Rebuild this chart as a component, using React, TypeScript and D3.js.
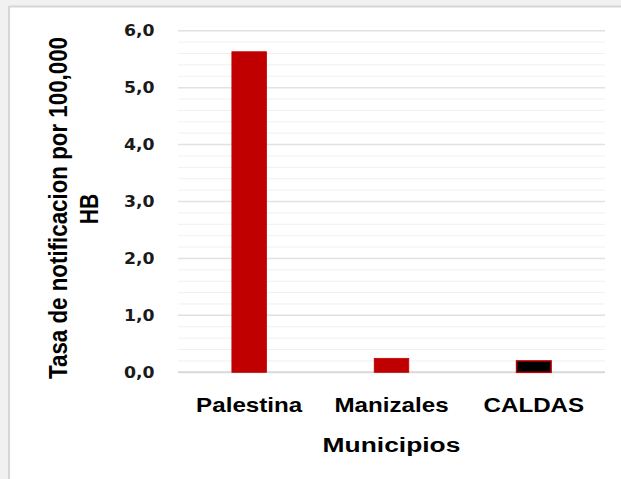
import React from "react";
import * as d3 from "d3";

const categories = ["Palestina", "Manizales", "CALDAS"];
const values = [5.63, 0.245, 0.2];
const barFills = ["#C00000", "#C00000", "#000000"];
const majorTicks = [0, 1, 2, 3, 4, 5, 6];
const minorTicks = d3.range(0, 6.01, 0.2);
const yTitleLines = ["Tasa de notificacion por 100,000", "HB"];
const xTitle = "Municipios";

const W = 621;
const H = 479;

export default function App() {
  const y = d3.scaleLinear().domain([0, 6]).range([372.3, 30.7]);
  const x = d3.scaleBand<string>().domain(categories).range([178, 605]).padding(0);
  const bw = x.bandwidth();
  const barW = bw / (1 + 3.12);
  const fmt = (d: number) => d.toFixed(1).replace(".", ",");
  const labelFont = "'Liberation Sans', Arial, sans-serif";
  const tickFont = "'DejaVu Sans', Verdana, sans-serif";

  return (
    <svg
      width={W}
      height={H}
      style={{ position: "absolute", left: 0, top: 0, display: "block" }}
    >
      {/* slide background */}
      <rect x={0} y={0} width={W} height={H} fill="#f1f1f1" />
      <rect x={9} y={6} width={W - 9} height={H - 6} fill="#ffffff" />
      <line x1={9} x2={W} y1={6.5} y2={6.5} stroke="#d6d6d6" strokeWidth={2} />
      <line x1={9} x2={9} y1={6} y2={H} stroke="#d6d6d6" strokeWidth={2} />

      {/* minor gridlines */}
      {minorTicks.map((t, i) => (
        <line
          key={"mi" + i}
          x1={x.range()[0]}
          x2={x.range()[1]}
          y1={y(t)}
          y2={y(t)}
          stroke="#f0f0f0"
          strokeWidth={1}
        />
      ))}
      {/* major gridlines */}
      {majorTicks.map((t) => (
        <line
          key={"ma" + t}
          x1={x.range()[0]}
          x2={x.range()[1]}
          y1={y(t)}
          y2={y(t)}
          stroke={t === 0 ? "#d9d9d9" : "#e2e2e2"}
          strokeWidth={t === 0 ? 2 : 1.5}
        />
      ))}

      {/* bars */}
      {categories.map((c, i) => (
        <rect
          key={c}
          x={(x(c) as number) + (bw - barW) / 2}
          y={y(values[i])}
          width={barW}
          height={y(0) - y(values[i])}
          fill={barFills[i]}
          stroke="#C00000"
          strokeWidth={i === 2 ? 1.5 : 0.8}
        />
      ))}

      {/* y tick labels */}
      {majorTicks.map((t) => (
        <g key={"tl" + t} transform={`translate(154.5,${y(t)}) scale(1.08,1)`}>
          <text
            textAnchor="end"
            dy="0.36em"
            fontFamily={tickFont}
            fontWeight="bold"
            fontSize={16}
            fill="#1a1a1a"
          >
            {fmt(t)}
          </text>
        </g>
      ))}

      {/* category labels */}
      {categories.map((c) => (
        <g
          key={"cl" + c}
          transform={`translate(${(x(c) as number) + bw / 2},411.7) scale(1.24,1)`}
        >
          <text
            textAnchor="middle"
            fontFamily={labelFont}
            fontWeight="bold"
            fontSize={19.5}
            fill="#000"
          >
            {c}
          </text>
        </g>
      ))}

      {/* x title */}
      <g transform={`translate(${(x.range()[0] + x.range()[1]) / 2},452.3) scale(1.32,1)`}>
        <text
          textAnchor="middle"
          fontFamily={labelFont}
          fontWeight="bold"
          fontSize={20}
          fill="#000"
        >
          {xTitle}
        </text>
      </g>

      {/* y title */}
      <g transform="translate(67,208) scale(1.2,1) rotate(-90)">
        <text
          textAnchor="middle"
          fontFamily={labelFont}
          fontWeight="bold"
          fontSize={21}
          fill="#000"
          textLength={342}
          lengthAdjust="spacingAndGlyphs"
        >
          {yTitleLines[0]}
        </text>
      </g>
      <g transform="translate(97.5,209) scale(1.2,1) rotate(-90)">
        <text
          textAnchor="middle"
          fontFamily={labelFont}
          fontWeight="bold"
          fontSize={21}
          fill="#000"
        >
          {yTitleLines[1]}
        </text>
      </g>
    </svg>
  );
}
